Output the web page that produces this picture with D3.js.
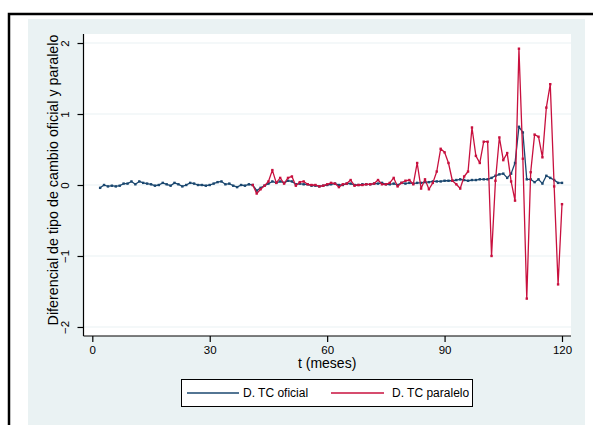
<!DOCTYPE html>
<html>
<head>
<meta charset="utf-8">
<script src="https://cdn.jsdelivr.net/npm/d3@7"></script>
<style>
  html, body { margin: 0; padding: 0; background: #ffffff; }
  svg { display: block; font-family: "Liberation Sans", Arial, sans-serif; }
</style>
</head>
<body>
<svg id="chart" width="593" height="425"></svg>
<script>
// Monthly differential, official exchange rate (t = 2 .. 120)
const oficialStart = 2;
const oficial = [
  -0.04, 0.00, -0.02, -0.01, -0.02, -0.01, 0.02, 0.02, 0.05, 0.01,
  0.05, 0.03, 0.02, 0.01, -0.01, 0.00, 0.03, 0.01, -0.01, 0.03,
  0.01, -0.02, 0.00, 0.03, 0.02, 0.00, 0.00, -0.01, 0.00, 0.02,
  0.04, 0.05, 0.01, 0.02, -0.01, -0.03, 0.00, -0.01, 0.01, 0.00,
  -0.08, -0.04, -0.01, 0.02, 0.05, 0.03, 0.05, 0.03, 0.06, 0.05,
  0.01, 0.02, 0.01, 0.01, -0.01, -0.01, -0.02, -0.01, 0.00, 0.01,
  0.02, 0.00, 0.00, 0.02, 0.02, 0.00, 0.00, 0.01, 0.01, 0.01,
  0.02, 0.02, 0.03, 0.01, 0.01, 0.02, 0.00, 0.03, 0.02, 0.03,
  0.02, 0.03, 0.03, 0.04, 0.04, 0.05, 0.05, 0.05, 0.06, 0.06,
  0.06, 0.07, 0.08, 0.07, 0.06, 0.07, 0.07, 0.08, 0.08, 0.08,
  0.10, 0.13, 0.15, 0.16, 0.10, 0.16, 0.31, 0.82, 0.74, 0.08,
  0.08, 0.04, 0.08, 0.02, 0.13, 0.10, 0.07, 0.03, 0.03
];

// Monthly differential, parallel exchange rate (t = 41 .. 120)
const paraleloStart = 41;
const paralelo = [
  0.00, -0.12, -0.06, -0.01, 0.05, 0.21, 0.03, 0.10, 0.02, 0.10,
  0.12, -0.01, 0.04, 0.05, 0.01, 0.00, 0.00, -0.02, -0.01, 0.01,
  0.03, 0.02, -0.03, 0.01, 0.02, 0.07, -0.01, 0.00, 0.00, 0.01,
  0.01, 0.02, 0.07, 0.01, 0.01, 0.03, 0.10, -0.02, 0.03, 0.06,
  0.07, 0.01, 0.31, -0.05, 0.08, -0.06, 0.03, 0.19, 0.51, 0.46,
  0.31, 0.06, 0.01, -0.05, 0.12, 0.19, 0.81, 0.41, 0.31, 0.61,
  0.61, -1.00, 0.06, 0.67, 0.35, 0.45, 0.05, -0.22, 1.92, 0.37,
  -1.60, 0.18, 0.71, 0.68, 0.39, 1.09, 1.42, -0.02, -1.40, -0.27
];

const xTicks = [0, 30, 60, 90, 120];
const yTicks = [-2, -1, 0, 1, 2];
const seriesNames = ["D. TC oficial", "D. TC paralelo"];
const seriesColors = ["#1a476f", "#c8103e"];

const svg = d3.select("#chart");
const bg = "#eaf2f3";

// outer frame and graph region
svg.append("rect").attr("x", 0).attr("y", 0).attr("width", 593).attr("height", 425).attr("fill", "#fff");
svg.append("path").attr("d", "M9,425 V14 H593").attr("fill", "none").attr("stroke", "#000").attr("stroke-width", 2.5);
svg.append("rect").attr("x", 28).attr("y", 19).attr("width", 557).attr("height", 406).attr("fill", bg);

const plot = { left: 83.5, right: 571, top: 34, bottom: 336 };
svg.append("rect").attr("x", plot.left).attr("y", plot.top)
  .attr("width", plot.right - plot.left).attr("height", plot.bottom - plot.top).attr("fill", "#fff");

const x = d3.scaleLinear().domain([-2.25, 122.3]).range([plot.left, plot.right]);
const y = d3.scaleLinear().domain([-2.127, 2.127]).range([plot.bottom, plot.top]);

// horizontal grid
svg.append("g").selectAll("line").data(yTicks).join("line")
  .attr("x1", plot.left).attr("x2", plot.right)
  .attr("y1", d => y(d)).attr("y2", d => y(d))
  .attr("stroke", bg).attr("stroke-width", 1.2);

// axes
const yAxis = svg.append("g").attr("transform", `translate(${plot.left},0)`)
  .call(d3.axisLeft(y).tickValues(yTicks).tickSize(6).tickPadding(4).tickFormat(d3.format("d")));
yAxis.selectAll(".tick text")
  .attr("x", 0).attr("y", 0).attr("dy", null)
  .attr("text-anchor", "middle")
  .attr("transform", "translate(-15,0) rotate(-90)");
const xAxis = svg.append("g").attr("transform", `translate(0,${plot.bottom})`)
  .call(d3.axisBottom(x).tickValues(xTicks).tickSize(6).tickPadding(4));
[yAxis, xAxis].forEach(a => {
  a.select(".domain").attr("stroke", "#000").attr("stroke-width", 1.2);
  a.selectAll(".tick line").attr("stroke", "#000").attr("stroke-width", 1.2);
  a.selectAll(".tick text").attr("fill", "#000").attr("font-size", 11.5)
    .attr("font-family", "Liberation Sans, Arial, sans-serif");
});
yAxis.select(".domain").attr("d", `M0,${plot.top}V${plot.bottom}`);
xAxis.select(".domain").attr("d", `M${plot.left},0H${plot.right}`);

// axis titles
svg.append("text").attr("transform", `translate(53,${(plot.top + plot.bottom) / 2 - 5}) rotate(-90)`)
  .attr("text-anchor", "middle").attr("dominant-baseline", "central")
  .attr("font-size", 14.3).attr("fill", "#000")
  .text("Diferencial de tipo de cambio oficial y paralelo");
svg.append("text").attr("x", x(60)).attr("y", 368)
  .attr("text-anchor", "middle").attr("font-size", 14).attr("fill", "#000")
  .text("t (meses)");

// series
const toPoints = (vals, start) => vals.map((v, i) => ({ t: start + i, v }));
const series = [toPoints(oficial, oficialStart), toPoints(paralelo, paraleloStart)];
const line = d3.line().x(d => x(d.t)).y(d => y(d.v));

series.forEach((pts, k) => {
  const g = svg.append("g");
  g.append("path").datum(pts).attr("d", line)
    .attr("fill", "none").attr("stroke", seriesColors[k]).attr("stroke-width", 1.3)
    .attr("stroke-linejoin", "round");
  g.selectAll("rect").data(pts).join("rect")
    .attr("x", d => x(d.t) - 1.2).attr("y", d => y(d.v) - 1.2)
    .attr("width", 2.4).attr("height", 2.4).attr("fill", seriesColors[k]);
});

// legend
const legend = svg.append("g");
legend.append("rect").attr("x", 181.5).attr("y", 379.5).attr("width", 291).attr("height", 27)
  .attr("fill", "#fff").attr("stroke", "#000").attr("stroke-width", 1);
const legendItems = [
  { x1: 187, x2: 239, tx: 243 },
  { x1: 331, x2: 384, tx: 392 }
];
legendItems.forEach((it, k) => {
  legend.append("line").attr("x1", it.x1).attr("x2", it.x2).attr("y1", 393).attr("y2", 393)
    .attr("stroke", seriesColors[k]).attr("stroke-width", 1.3);
  legend.append("text").attr("x", it.tx).attr("y", 393).attr("dominant-baseline", "central")
    .attr("font-size", 12).attr("fill", "#000").text(seriesNames[k]);
});
</script>
</body>
</html>
